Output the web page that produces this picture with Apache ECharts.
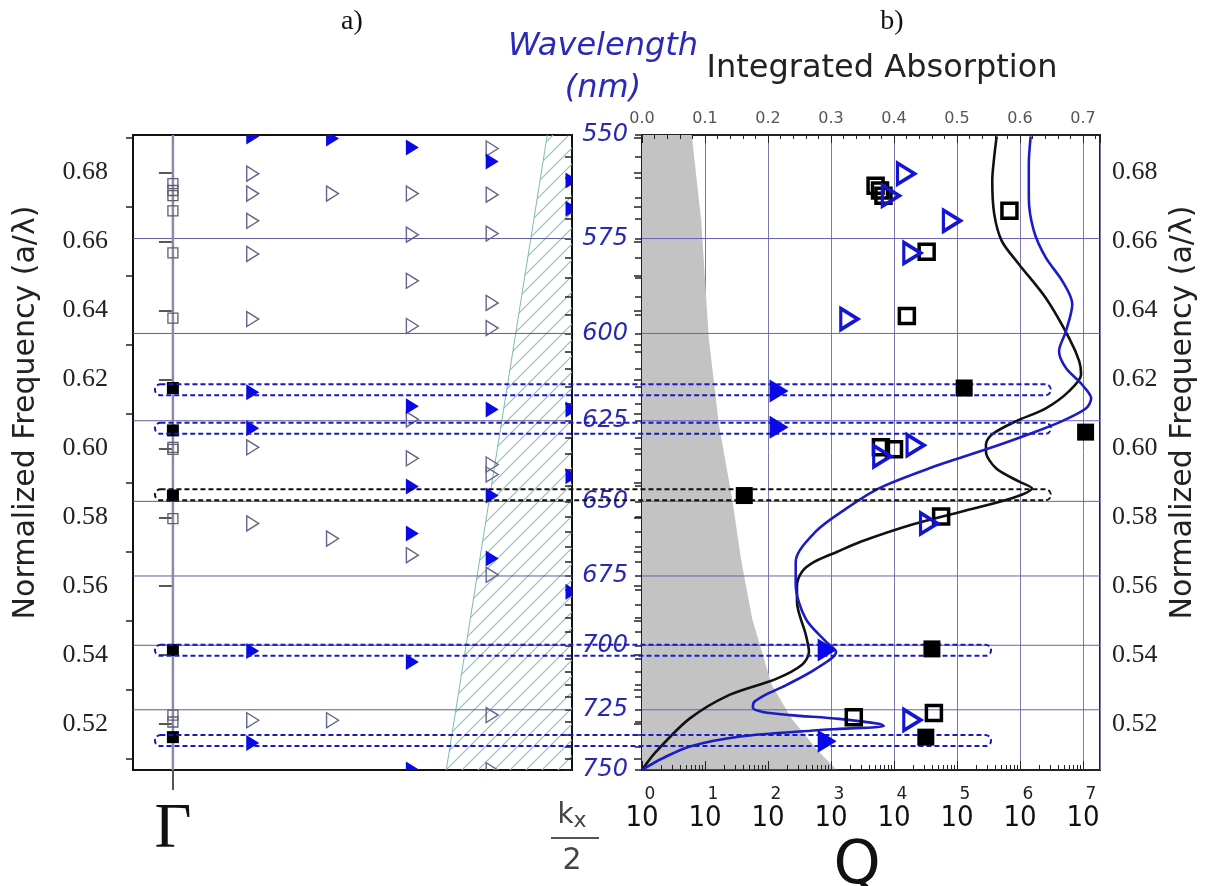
<!DOCTYPE html>
<html><head><meta charset="utf-8">
<script src="https://cdn.jsdelivr.net/npm/echarts@6/dist/echarts.min.js"></script>
<style>html,body{margin:0;padding:0;background:#fff}#c{width:1213px;height:886px}</style>
</head><body><div id="c"></div>
<script>
// ================= DATA =================
const LATTICE_NM = 380;                       // a (nm): frequency a/λ
const freqLabels = [0.52,0.54,0.56,0.58,0.60,0.62,0.64,0.66,0.68];
const freqMinorTicks = [0.51,0.53,0.55,0.57,0.59,0.61,0.63,0.65,0.67,0.69];
const wavelengthLabels = [550,575,600,625,650,675,700,725,750];
const wavelengthGrid = [575,600,625,650,675,700,725];
const wavelengthRange = [550,750];

// ---- panel a) band diagram ----
const kColumns = [1,2,3,4,5];
const gammaOpenSquares = [0.6768,0.6748,0.6733,0.6689,0.6567,0.6378,0.6003,0.5997,0.5796,0.5226,0.5206];
const gammaFilledSquares = [0.6175,0.6052,0.5863,0.5415,0.5162];
const filledTriByK = [
  [0.6905,0.6163,0.6058,0.5412,0.5145],
  [0.6899],
  [0.6873,0.6122,0.5889,0.5753,0.5380,0.5068],
  [0.6832,0.6113,0.5863,0.5680],
  [0.6777,0.6695,0.6113,0.5919,0.5584]
];
const openTriByK = [
  [0.6797,0.6739,0.6660,0.6564,0.6375,0.6003,0.5782,0.5211],
  [0.6739,0.5738,0.5211],
  [0.6739,0.6620,0.6486,0.6355,0.6084,0.5971,0.5690],
  [0.6870,0.6736,0.6623,0.6422,0.6349,0.5953,0.5924,0.5633,0.5226,0.5066],
  []
];
const lightConeK = [3.425, 4.69];
const lightConeF = [0.5067, 0.6909];

// highlighted modes (dashed boxes)
const modeBoxFreq  = [0.6170, 0.6058, 0.5865, 0.5414, 0.5152];
const modeBoxColor = ['#1818c8','#1818c8','#111111','#1818c8','#1818c8'];

// ---- panel b) absorption & Q ----
const grayFreq = [0.6909,0.6660,0.6320,0.6070,0.5855,0.5680,0.5505,0.5313,0.5215,0.5119,0.5069];
const grayAbs  = [0.079,0.094,0.106,0.122,0.143,0.157,0.175,0.206,0.238,0.281,0.308];

const blackFreq = [0.6905,0.6844,0.6777,0.6681,0.6602,0.6535,0.6436,0.6320,0.6253,0.6215,0.6166,0.6116,0.6079,0.6041,0.6012,0.5991,0.5942,0.5904,0.5884,0.5855,0.5817,0.5779,0.5729,0.5700,0.5671,0.5642,0.5600,0.5555,0.5459,0.5409,0.5372,0.5331,0.5284,0.5215,0.5119,0.5067];
const blackAbs  = [0.563,0.559,0.556,0.559,0.571,0.598,0.641,0.678,0.694,0.697,0.678,0.641,0.594,0.556,0.546,0.546,0.562,0.598,0.619,0.587,0.508,0.429,0.347,0.310,0.274,0.254,0.246,0.246,0.260,0.265,0.254,0.213,0.138,0.075,0.022,0.000];

const blueFreq = [0.6905,0.6826,0.6727,0.6631,0.6553,0.6486,0.6419,0.6340,0.6282,0.6233,0.6186,0.6145,0.6116,0.6079,0.6041,0.6000,0.5942,0.5884,0.5825,0.5759,0.5671,0.5604,0.5505,0.5439,0.5409,0.5360,0.5313,0.5284,0.5264,0.5247,0.5235,0.5226,0.5215,0.5200,0.5194,0.5186,0.5182,0.5164,0.5135,0.5100,0.5067];
const blueAbs  = [0.617,0.614,0.614,0.622,0.641,0.667,0.683,0.673,0.662,0.673,0.698,0.713,0.705,0.667,0.614,0.551,0.456,0.376,0.324,0.276,0.244,0.244,0.260,0.292,0.308,0.276,0.229,0.195,0.178,0.176,0.192,0.235,0.313,0.378,0.384,0.313,0.278,0.156,0.076,0.032,0.000];

const openSqQ = [5100,6000,6800,680000,33000,16000,6200,10000,56000,2300,43000];
const openSqF = [0.6762,0.6748,0.6733,0.6689,0.6570,0.6384,0.6003,0.5997,0.5802,0.5220,0.5232];
const filledSqQ = [130000,11000000,42,40000,32000];
const filledSqF = [0.6175,0.6047,0.5863,0.5418,0.5162];
const filledTriQ = [150,150,870,870];
const filledTriF = [0.6166,0.6061,0.5415,0.5150];
const openTriQ = [15500,8900,83000,19500,1950,22000,6500,36000,19500];
const openTriF = [0.6797,0.6733,0.6660,0.6567,0.6375,0.6009,0.5977,0.5782,0.5212];

// ================= LAYOUT / STYLE =================
const F_MIN = LATTICE_NM / wavelengthRange[1];
const F_MAX = LATTICE_NM / wavelengthRange[0];
const ABS_MAX = 0.727;                 // right panel extends a bit past 0.7
const Q_MAX = Math.pow(10, ABS_MAX * 10);
const BOX_START_K = -0.225;
const BOX_END_K = [11.0, 11.0, 11.0, 10.25, 10.25];
const BOX_H = 11;
const TRI = 'path://M0,0L10,6L0,12Z';
const BLUE = '#0808e8';

const wavelengthTickF = [];
for (let w = wavelengthRange[0]; w <= wavelengthRange[1]; w += 5) wavelengthTickF.push(LATTICE_NM / w);
const freqAllTicks = freqLabels.concat(freqMinorTicks);
const logMinor = [];
for (let k = 0; k <= 7; k++) for (let j = 2; j <= 9; j++) { const v = Math.log10(j) + k; if (v < ABS_MAX*10) logMinor.push(v); }

function hatchPattern() {
  const s = 16, c = document.createElement('canvas'); c.width = s; c.height = s;
  const g = c.getContext('2d'); g.strokeStyle = '#88c2b3'; g.lineWidth = 1.1;
  g.beginPath();
  g.moveTo(0, s); g.lineTo(s, 0);
  g.moveTo(-s/2, s/2); g.lineTo(s/2, -s/2);
  g.moveTo(s/2, s*1.5); g.lineTo(s*1.5, s/2);
  g.stroke();
  return { image: c, repeat: 'repeat' };
}
const HATCH = hatchPattern();

function hLineSeries(xAxisIndex, yAxisIndex, color) {
  return {
    type: 'custom', xAxisIndex, yAxisIndex, silent: true, z: 1, clip: true,
    data: wavelengthGrid.map(w => [0.1, LATTICE_NM / w]),
    renderItem(params, api) {
      const y = api.coord([api.value(0), api.value(1)])[1];
      const cs = params.coordSys;
      return { type: 'line', shape: { x1: cs.x, y1: y, x2: cs.x + cs.width, y2: y },
               style: { stroke: color, lineWidth: 1 } };
    }
  };
}

// clipped markers for panel a (markers at the border are cut like in the figure)
function clippedMarkers(data, shape, w, h, style) {
  return {
    type: 'custom', xAxisIndex: 0, yAxisIndex: 0, silent: true, z: 3, clip: true, data,
    renderItem(params, api) {
      const p = api.coord([api.value(0), api.value(1)]);
      if (shape === 'tri') {
        return { type: 'polygon', shape: { points: [[p[0] - w/2, p[1] - h/2], [p[0] + w/2, p[1]], [p[0] - w/2, p[1] + h/2]] }, style };
      }
      return { type: 'rect', shape: { x: p[0] - w/2, y: p[1] - h/2, width: w, height: h }, style };
    }
  };
}

const serifLbl = { fontFamily: 'Liberation Serif', fontSize: 26, color: '#222' };
const nameStyle = { fontFamily: 'DejaVu Sans', fontSize: 30, color: '#222', padding: [0, 0, 0, 80] };

const option = {
  animation: false,
  backgroundColor: '#fff',
  grid: [
    { left: 133, top: 135, width: 439, height: 635, show: true, borderColor: '#111', borderWidth: 2, outerBoundsMode: 'none', containLabel: false },
    { left: 642, top: 135, width: 458, height: 635, show: true, borderColor: '#222', borderWidth: 2, outerBoundsMode: 'none', containLabel: false }
  ],
  graphic: [
    { type: 'text', x: 352, y: 22, style: { text: 'a)', font: '28px "Liberation Serif"', fill: '#111', textAlign: 'center', textVerticalAlign: 'middle' } },
    { type: 'text', x: 892, y: 22, style: { text: 'b)', font: '28px "Liberation Serif"', fill: '#111', textAlign: 'center', textVerticalAlign: 'middle' } },
    { type: 'text', x: 603, y: 47, style: { text: 'Wavelength', font: 'italic 32px "DejaVu Sans"', fill: '#2a2ab8', textAlign: 'center', textVerticalAlign: 'middle' } },
    { type: 'text', x: 603, y: 89, style: { text: '(nm)', font: 'italic 32px "DejaVu Sans"', fill: '#2a2ab8', textAlign: 'center', textVerticalAlign: 'middle' } },
    { type: 'line', shape: { x1: 551, y1: 838, x2: 599, y2: 838 }, style: { stroke: '#555', lineWidth: 2 } }
  ],
  xAxis: [
    { gridIndex: 0, type: 'value', min: -0.5, max: 5, position: 'bottom',
      axisLine: { show: false }, splitLine: { show: false },
      axisTick: { show: true, customValues: [0], length: 20, lineStyle: { color: '#555', width: 2 } },
      axisLabel: { customValues: [0, 5], margin: 30,
        formatter: v => v === 0 ? '{g|Γ}' : '{k|k}{x|x}\n{d|2}',
        rich: {
          g: { fontFamily: 'Liberation Serif', fontSize: 64, color: '#111', lineHeight: 60 },
          k: { fontFamily: 'DejaVu Sans', fontSize: 28, color: '#444', lineHeight: 32 },
          x: { fontFamily: 'DejaVu Sans', fontSize: 22, color: '#444', lineHeight: 32, verticalAlign: 'bottom' },
          d: { fontFamily: 'DejaVu Sans', fontSize: 30, color: '#444', lineHeight: 44, verticalAlign: 'bottom' }
        } } },
    { gridIndex: 1, type: 'value', position: 'top', min: 0, max: ABS_MAX, interval: 0.1,
      axisLine: { show: false },
      axisTick: { show: true, inside: true, length: 8, lineStyle: { color: '#222' } },
      minorTick: { show: true, splitNumber: 5, length: 4, lineStyle: { color: '#222' } },
      splitLine: { show: true, lineStyle: { color: '#7a7ab0', width: 1 } },
      axisLabel: { formatter: v => v.toFixed(1), showMaxLabel: false, margin: 8,
        fontFamily: 'DejaVu Sans', fontSize: 16, color: '#555' },
      name: 'Integrated Absorption', nameLocation: 'middle', nameGap: 50,
      nameTextStyle: { fontFamily: 'DejaVu Sans', fontSize: 32, color: '#222', padding: [0, 0, 0, 22] } },
    { gridIndex: 1, type: 'log', logBase: 10, position: 'bottom', min: 1, max: Q_MAX,
      axisLine: { show: false }, splitLine: { show: false },
      axisTick: { show: true, inside: true, length: 9, lineStyle: { color: '#222' } },
      axisLabel: { showMaxLabel: false, margin: 16,
        formatter: v => '{e|' + Math.round(Math.log10(v)) + '}\n{b|10}',
        rich: {
          e: { fontFamily: 'DejaVu Sans', fontSize: 17, color: '#222', lineHeight: 18, padding: [0, 0, 0, 16] },
          b: { fontFamily: 'DejaVu Sans Condensed, Liberation Sans Narrow, DejaVu Sans', fontSize: 29, color: '#111', lineHeight: 28 }
        } },
      name: 'Q', nameLocation: 'middle', nameGap: 52,
      nameTextStyle: { fontFamily: 'DejaVu Sans', fontSize: 60, color: '#111', padding: [0, 28, 0, 0] } },
    { gridIndex: 1, type: 'value', position: 'bottom', min: 0, max: ABS_MAX * 10,
      axisLine: { show: false }, splitLine: { show: false }, axisLabel: { show: false },
      axisTick: { show: true, inside: true, length: 5, customValues: logMinor, lineStyle: { color: '#222' } } }
  ],
  yAxis: [
    { gridIndex: 0, type: 'value', position: 'left', min: F_MIN, max: F_MAX,
      axisLine: { show: false }, splitLine: { show: false },
      axisTick: { show: true, customValues: freqLabels, length: 14, lineStyle: { color: '#222', width: 1.5 } },
      axisLabel: Object.assign({ customValues: freqLabels, formatter: v => v.toFixed(2), margin: 25 }, serifLbl),
      name: 'Normalized Frequency (a/λ)', nameLocation: 'middle', nameRotate: 90, nameGap: 92,
      nameTextStyle: nameStyle },
    { gridIndex: 0, type: 'value', position: 'left', min: F_MIN, max: F_MAX,
      axisLine: { show: false }, splitLine: { show: false }, axisLabel: { show: false },
      axisTick: { show: true, customValues: freqMinorTicks, length: 7, lineStyle: { color: '#222', width: 1.5 } } },
    { gridIndex: 0, type: 'value', position: 'right', min: F_MIN, max: F_MAX,
      axisLine: { show: false }, splitLine: { show: false }, axisLabel: { show: false },
      axisTick: { show: true, inside: true, customValues: wavelengthTickF, length: 7, lineStyle: { color: '#222', width: 1.5 } } },
    { gridIndex: 1, type: 'value', position: 'right', min: F_MIN, max: F_MAX,
      axisLine: { show: false }, splitLine: { show: false },
      axisTick: { show: true, inside: true, customValues: freqAllTicks, length: 8, lineStyle: { color: '#222', width: 1.5 } },
      axisLabel: Object.assign({ customValues: freqLabels, formatter: v => v.toFixed(2), margin: 12 }, serifLbl),
      name: 'Normalized Frequency (a/λ)', nameLocation: 'middle', nameRotate: 90, nameGap: 68,
      nameTextStyle: nameStyle },
    { gridIndex: 1, type: 'value', position: 'left', min: F_MIN, max: F_MAX,
      axisLine: { show: false }, splitLine: { show: false },
      axisTick: { show: true, customValues: wavelengthTickF, length: 7, lineStyle: { color: '#222', width: 1.5 } },
      axisLabel: { customValues: wavelengthLabels.map(w => LATTICE_NM / w), formatter: v => String(Math.round(LATTICE_NM / v)),
        margin: 14, fontFamily: 'DejaVu Sans', fontStyle: 'italic', fontSize: 24, color: '#2a2ab0' } }
  ],
  series: [
    // ---------- panel a ----------
    { type: 'custom', xAxisIndex: 0, yAxisIndex: 0, silent: true, z: 0, clip: true,
      data: lightConeK.map((k, i) => [k, lightConeF[i]]),
      renderItem(params, api) {
        if (params.dataIndex !== 0) return;
        const cs = params.coordSys;
        const p = lightConeK.map((k, i) => api.coord([k, lightConeF[i]]));
        const xr = cs.x + cs.width;
        return { type: 'group', children: [
          { type: 'polygon', shape: { points: [p[0], p[1], [xr, p[1][1]], [xr, p[0][1]]] }, style: { fill: HATCH } },
          { type: 'line', shape: { x1: p[0][0], y1: p[0][1], x2: p[1][0], y2: p[1][1] }, style: { stroke: '#7fbcae', lineWidth: 1 } }
        ] };
      } },
    hLineSeries(0, 0, '#5c5c96'),
    { type: 'custom', xAxisIndex: 0, yAxisIndex: 0, silent: true, z: 1, clip: true,
      data: [[0, F_MIN]],
      renderItem(params, api) {
        const cs = params.coordSys;
        const x = api.coord([api.value(0), api.value(1)])[0];
        return { type: 'line', shape: { x1: x, y1: cs.y, x2: x, y2: cs.y + cs.height }, style: { stroke: '#8c8ca6', lineWidth: 2.5 } };
      } },
    clippedMarkers(gammaOpenSquares.map(f => [0, f]), 'rect', 10, 10, { fill: 'none', stroke: '#5e5e70', lineWidth: 1.3 }),
    clippedMarkers(gammaFilledSquares.map(f => [0, f]), 'rect', 12, 12, { fill: '#000' }),
    clippedMarkers(kColumns.flatMap((k, i) => openTriByK[i].map(f => [k, f])), 'tri', 12, 15, { fill: 'none', stroke: '#64648e', lineWidth: 1.4 }),
    clippedMarkers(kColumns.flatMap((k, i) => filledTriByK[i].map(f => [k, f])), 'tri', 13, 16, { fill: BLUE }),

    // ---------- panel b ----------
    { type: 'custom', xAxisIndex: 1, yAxisIndex: 3, silent: true, z: 0, clip: true,
      data: grayAbs.map((a, i) => [a, grayFreq[i]]),
      renderItem(params, api) {
        if (params.dataIndex !== 0) return;
        const pts = grayAbs.map((a, i) => api.coord([a, grayFreq[i]]));
        pts.push(api.coord([0, grayFreq[grayFreq.length - 1]]));
        pts.push(api.coord([0, grayFreq[0]]));
        return { type: 'polygon', shape: { points: pts }, style: { fill: '#c3c3c3' } };
      } },
    hLineSeries(1, 3, '#6464b4'),
    { type: 'line', xAxisIndex: 1, yAxisIndex: 3, z: 4, symbol: 'none', smooth: 0.3,
      lineStyle: { color: '#111', width: 2.6 }, data: blackAbs.map((a, i) => [a, blackFreq[i]]) },
    { type: 'line', xAxisIndex: 1, yAxisIndex: 3, z: 4, symbol: 'none', smooth: 0.3,
      lineStyle: { color: '#1c1cc4', width: 2.6 }, data: blueAbs.map((a, i) => [a, blueFreq[i]]) },
    { type: 'scatter', xAxisIndex: 2, yAxisIndex: 3, z: 6, symbol: 'rect', symbolSize: 15,
      itemStyle: { color: 'rgba(0,0,0,0)', borderColor: '#000', borderWidth: 3.5, opacity: 1 },
      data: openSqQ.map((q, i) => [q, openSqF[i]]) },
    { type: 'scatter', xAxisIndex: 2, yAxisIndex: 3, z: 6, symbol: TRI, symbolSize: [17, 21],
      itemStyle: { color: 'rgba(0,0,0,0)', borderColor: '#1414d4', borderWidth: 3.5, opacity: 1 },
      data: openTriQ.map((q, i) => [q, openTriF[i]]) },
    { type: 'scatter', xAxisIndex: 2, yAxisIndex: 3, z: 6, symbol: 'rect', symbolSize: 17,
      itemStyle: { color: '#000', opacity: 1 }, data: filledSqQ.map((q, i) => [q, filledSqF[i]]) },
    { type: 'scatter', xAxisIndex: 2, yAxisIndex: 3, z: 6, symbol: TRI, symbolSize: [19, 23],
      itemStyle: { color: BLUE, opacity: 1 }, data: filledTriQ.map((q, i) => [q, filledTriF[i]]) },

    // ---------- dashed mode boxes spanning both panels ----------
    { type: 'custom', xAxisIndex: 0, yAxisIndex: 0, silent: true, z: 5, clip: false,
      data: modeBoxFreq.map((f, i) => [BOX_START_K, f, BOX_END_K[i]]),
      renderItem(params, api) {
        const p0 = api.coord([api.value(0), api.value(1)]);
        const p1 = api.coord([api.value(2), api.value(1)]);
        return { type: 'rect',
          shape: { x: p0[0], y: p0[1] - BOX_H / 2, width: p1[0] - p0[0], height: BOX_H, r: BOX_H / 2 },
          style: { fill: null, stroke: modeBoxColor[params.dataIndex], lineWidth: 2, lineDash: [5, 3] } };
      } }
  ]
};

const chart = echarts.init(document.getElementById('c'), null, { renderer: 'canvas' });
chart.setOption(option);
</script>
</body></html>
